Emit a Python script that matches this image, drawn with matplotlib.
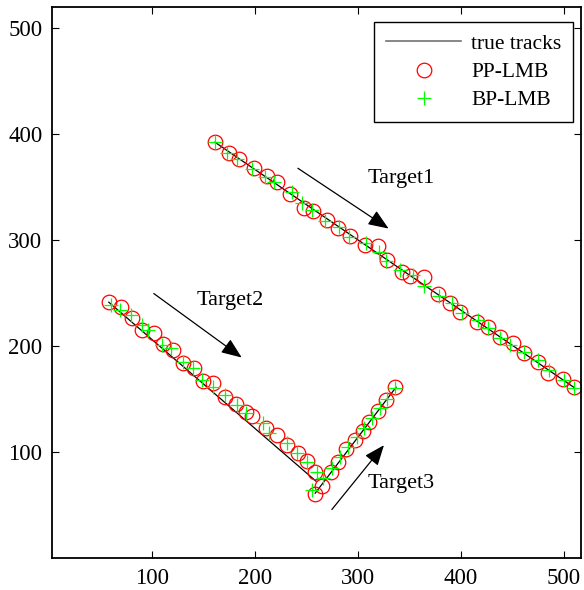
import numpy as np
import matplotlib.pyplot as plt

plt.rcParams['font.family'] = ['Liberation Serif', 'DejaVu Serif']

# true tracks (start / end of each straight track)
true1_x = [161.3, 509.8]
true1_y = [392.5, 161.3]
true2_x = [58.2, 259.5]
true2_y = [241.5, 72.6]
true3_x = [258.7, 337.3]
true3_y = [61.3, 161.3]

# PP-LMB estimates
pp1_x = [161.3, 174.9, 184.7, 199.3, 211.9, 221.7, 234.3, 247.9, 256.7, 270.3,
         281.0, 292.7, 307.3, 320.0, 328.7, 343.3, 351.1, 364.7, 378.4, 390.0,
         399.8, 416.3, 427.0, 438.7, 450.4, 461.1, 474.7, 484.4, 499.1, 509.8]
pp1_y = [392.5, 382.1, 376.4, 367.9, 360.4, 354.7, 343.4, 330.2, 327.4, 318.9,
         311.3, 303.8, 295.3, 294.3, 281.1, 269.8, 266.0, 265.1, 249.1, 240.6,
         232.1, 222.6, 217.9, 208.5, 202.8, 193.4, 184.9, 174.5, 168.9, 161.3]
pp2_x = [58.2, 69.9, 80.5, 90.3, 102.0, 110.7, 120.4, 130.2, 140.9, 149.6,
         159.4, 171.1, 181.8, 191.5, 197.3, 210.9, 221.7, 231.4, 242.1, 250.9, 258.7]
pp2_y = [241.5, 236.8, 226.4, 215.1, 212.3, 201.9, 196.2, 184.0, 179.2, 167.0,
         165.1, 151.9, 145.3, 137.7, 134.0, 122.6, 116.0, 106.6, 99.1, 91.5, 81.1]
pp3_x = [258.7, 265.5, 274.3, 281.1, 288.8, 297.6, 305.4, 311.2, 320.0, 327.8, 336.6]
pp3_y = [60.4, 67.9, 81.1, 90.6, 102.8, 111.3, 119.8, 128.3, 138.7, 149.1, 161.3]

# BP-LMB estimates
bp1_x = [161.3, 173.0, 182.8, 197.3, 210.0, 218.8, 236.3, 246.0, 255.7, 268.4,
         282.0, 291.8, 308.3, 321.0, 327.8, 341.4, 354.0, 364.7, 379.3, 392.0,
         401.7, 417.3, 427.0, 438.7, 448.4, 461.1, 474.7, 485.4, 500.0, 509.8]
bp1_y = [392.5, 382.1, 376.4, 367.0, 359.4, 354.7, 345.3, 334.9, 328.3, 317.9,
         312.3, 302.8, 297.2, 288.7, 280.2, 271.7, 267.0, 256.6, 247.2, 240.6,
         231.1, 224.5, 217.0, 207.5, 200.9, 194.3, 186.8, 177.4, 167.9, 160.4]
bp2_x = [60.1, 68.9, 79.6, 90.3, 96.1, 109.7, 118.5, 130.2, 139.9, 148.7,
         159.4, 171.1, 182.8, 191.5, 208.1, 213.9, 231.4, 241.1, 250.9, 260.6]
bp2_y = [238.7, 234.0, 229.2, 219.8, 215.1, 200.9, 198.1, 184.9, 179.2, 167.9,
         161.3, 153.8, 144.3, 136.8, 127.4, 117.9, 108.5, 99.1, 90.6, 81.1]
bp3_x = [255.6, 266.5, 275.2, 283.0, 290.8, 299.6, 306.4, 314.2, 322.0, 328.8, 336.6]
bp3_y = [64.2, 75.5, 84.9, 95.3, 104.7, 114.2, 122.6, 132.1, 141.5, 150.0, 160.4]

labels = ['Target1', 'Target2', 'Target3']
label_x = [310, 143, 310]
label_y = [358, 243, 70]
arrow_start = [(241.9, 367.9), (101.9, 249.7), (274.9, 45.9)]
arrow_end = [(330.0, 311.0), (187.3, 189.3), (325.5, 106.6)]

fig = plt.figure(figsize=(5.84, 5.90), dpi=100)
ax = fig.add_axes([0.089, 0.054, 0.906, 0.934])

for tx, ty in [(true1_x, true1_y), (true2_x, true2_y), (true3_x, true3_y)]:
    ax.plot(tx, ty, color='k', lw=0.9)
for px, py in [(pp1_x, pp1_y), (pp2_x, pp2_y), (pp3_x, pp3_y)]:
    ax.plot(px, py, 'o', ls='none', mfc='none', mec='#ff0000', ms=10.5, mew=0.9)
for bx, by in [(bp1_x, bp1_y), (bp2_x, bp2_y), (bp3_x, bp3_y)]:
    ax.plot(bx, by, '+', ls='none', color='#00ff00', ms=10.5, mew=0.9)

for s, e in zip(arrow_start, arrow_end):
    ax.annotate('', xy=e, xytext=s,
                arrowprops=dict(arrowstyle='-|>,head_length=1.25,head_width=0.5',
                                color='k', lw=0.9, shrinkA=0, shrinkB=0))
for t, lx, ly in zip(labels, label_x, label_y):
    ax.text(lx, ly, t, fontsize=16, va='center', ha='left')

h_true = plt.Line2D([], [], color='0.45', lw=1.2)
h_pp = plt.Line2D([], [], marker='o', ls='none', mfc='none', mec='#ff0000', ms=10.5, mew=0.9)
h_bp = plt.Line2D([], [], marker='+', ls='none', color='#00ff00', ms=10.5, mew=0.9)
leg = ax.legend([h_true, h_pp, h_bp], ['true tracks', 'PP-LMB', 'BP-LMB'],
                loc='upper right', bbox_to_anchor=(0.985, 0.973), borderaxespad=0,
                fontsize=15.5, fancybox=False, edgecolor='k', framealpha=1,
                handlelength=3.5, labelspacing=0.38, borderpad=0.55, handletextpad=0.45)
leg.get_frame().set_linewidth(1.0)

ax.set_xlim(3, 517)
ax.set_ylim(0, 520)
ax.set_xticks([100, 200, 300, 400, 500])
ax.set_yticks([100, 200, 300, 400, 500])
ax.tick_params(direction='in', top=True, right=True, length=5, labelsize=16.5, pad=7)
for sp in ax.spines.values():
    sp.set_linewidth(1.3)

fig.savefig('out.png', dpi=100)
